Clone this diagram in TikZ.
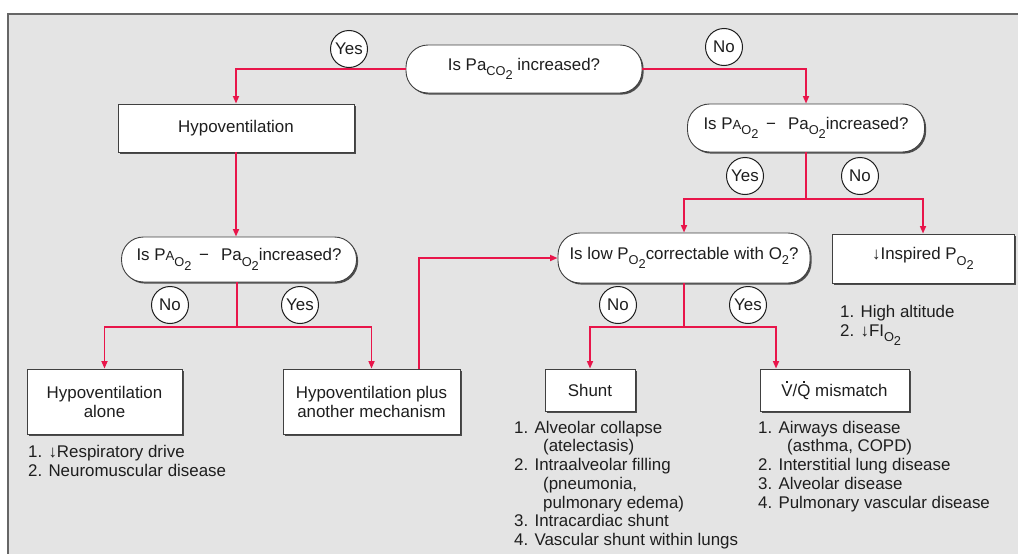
\documentclass[tikz,border=0pt]{standalone}
\usepackage{fontspec}
\setmainfont{Liberation Sans}
\usetikzlibrary{arrows.meta,shadows}

\definecolor{flow}{HTML}{E8154A}
\definecolor{panel}{HTML}{E4E4E4}
\definecolor{ink}{HTML}{1E1E1E}

% lowered (subscript-like) text in the running font
\newcommand\lo[1]{\raisebox{-0.32em}{\fontsize{12.8}{12.8}\selectfont #1}}
% small capital A used in alveolar pressure
\newcommand\alv{{\fontsize{13.2}{13.2}\selectfont A}}
% dot placed over a capital letter (flow rate notation)
\newcommand\overdot[1]{\leavevmode\setbox0\hbox{#1}%
  \rlap{\hbox to \wd0{\hss\raisebox{0.8em}{\rule{2pt}{2pt}}\hss}}\box0\relax}

\tikzset{
  base/.style={font=\fontsize{16.9}{19}\selectfont, text=ink, align=center, inner sep=2pt},
  box/.style={base, rectangle, draw=ink!85, line width=0.9pt, fill=white,
    drop shadow={shadow xshift=1.6pt, shadow yshift=-1.6pt, fill=black!70, opacity=1}},
  pill/.style={base, rectangle, rounded corners=22pt, draw=ink!85, line width=0.9pt, fill=white,
    drop shadow={shadow xshift=1.6pt, shadow yshift=-1.6pt, fill=black!70, opacity=1}},
  answer/.style={base, circle, draw=ink, line width=1pt, fill=white, minimum size=37pt, inner sep=0pt},
  list/.style={font=\fontsize{16.9}{18.7}\selectfont, text=ink, align=left, anchor=north west, inner sep=0pt},
  flowline/.style={draw=flow, line width=1.6pt},
  flowarrow/.style={flowline, -{Triangle[length=7.5pt,width=6pt]}}
}

\begin{document}
\begin{tikzpicture}[x=1pt,y=-1pt]
\useasboundingbox (0,0) rectangle (1018,554);
\clip (0,0) rectangle (1018,554);
\fill[white] (0,0) rectangle (1018,554);
% grey panel
\draw[fill=panel, draw=black!60, line width=1.3pt] (8,14) rectangle (1040,580);

% decisions and outcomes
\node[pill, minimum width=236pt, minimum height=48pt] (q1) at (524,69) {Is Pa\lo{CO\lo{2}} increased?};
\node[box, minimum width=236pt, minimum height=48pt] (hypo) at (236,128) {Hypoventilation};
\node[pill, minimum width=237pt, minimum height=48pt] (q2) at (806,128) {Is P\alv\lo{O\lo{2}} \,−\;\, Pa\lo{O\lo{2}}increased?};
\node[pill, minimum width=235pt, minimum height=45pt] (q3) at (239,259.5) {Is P\alv\lo{O\lo{2}} \,−\;\, Pa\lo{O\lo{2}}increased?};
\node[pill, minimum width=252pt, minimum height=50pt] (q4) at (684,258) {Is low P\lo{O\lo{2}}correctable with O\lo{2}?};
\node[box, minimum width=182pt, minimum height=49pt] (insp) at (923,258.5) {↓Inspired P\lo{O\lo{2}}};
\node[box, minimum width=155pt, minimum height=65pt] (alone) at (104.5,401.5) {Hypoventilation\\alone};
\node[box, minimum width=177pt, minimum height=65pt] (plus) at (371.5,401.5) {Hypoventilation plus\\another mechanism};
\node[box, minimum width=90pt, minimum height=42pt] (shunt) at (590,390) {Shunt};
\node[box, minimum width=149pt, minimum height=42pt] (vq) at (834.5,390) {\overdot{V}/\overdot{Q} mismatch};

% branch points
\coordinate (b2) at (806,199);
\coordinate (b3) at (237,327);
\coordinate (b4) at (684,327);

% connectors
\draw[flowarrow] (q1.west) -| (hypo.north);
\draw[flowarrow] (q1.east) -| (q2.north);
\draw[flowarrow] (hypo.south) -- (hypo.south |- q3.north);
\draw[flowline] (q2.south) -- (b2);
\draw[flowarrow] (b2) -| (q4.north);
\draw[flowarrow] (b2) -| (insp.north);
\draw[flowline] (b3 |- q3.south) -- (b3);
\draw[flowarrow] (b3) -| (alone.north);
\draw[flowarrow] (b3) -| (plus.north);
\draw[flowarrow] ([xshift=47.5pt]plus.north) |- (q4.west);
\draw[flowline] (q4.south) -- (b4);
\draw[flowarrow] (b4) -| (shunt.north);
\draw[flowarrow] (b4) -| ([xshift=-58.5pt]vq.north);

% answer labels
\node[answer] (yes1) at (349,49) {Yes};
\node[answer] (no1) at (724,47) {No};
\node[answer] (yes2) at (745,176) {Yes};
\node[answer] (no2) at (860,176) {No};
\node[answer] (no3) at (170,305) {No};
\node[answer] (yes3) at (300,305) {Yes};
\node[answer] (no4) at (618,305) {No};
\node[answer] (yes4) at (748,305) {Yes};

% cause lists
\node[list] (alonelist) at (28,444) {\rule{0pt}{13pt}1. ↓Respiratory drive\\[0.5pt]2. Neuromuscular disease};
\node[list] (insplist) at (840,304) {\rule{0pt}{13pt}1. High altitude\\[0.5pt]2. ↓FI\lo{O\lo{2}}};
\node[list] (shuntlist) at (514,420) {\rule{0pt}{13pt}1. Alveolar collapse\\
\hspace*{29pt}(atelectasis)\\
2. Intraalveolar filling\\
\hspace*{29pt}(pneumonia,\\
\hspace*{29pt}pulmonary edema)\\
3. Intracardiac shunt\\
4. Vascular shunt within lungs};
\node[list] (vqlist) at (758,420) {\rule{0pt}{13pt}1. Airways disease\\
\hspace*{29pt}(asthma, COPD)\\
2. Interstitial lung disease\\
3. Alveolar disease\\
4. Pulmonary vascular disease};
\end{tikzpicture}
\end{document}
